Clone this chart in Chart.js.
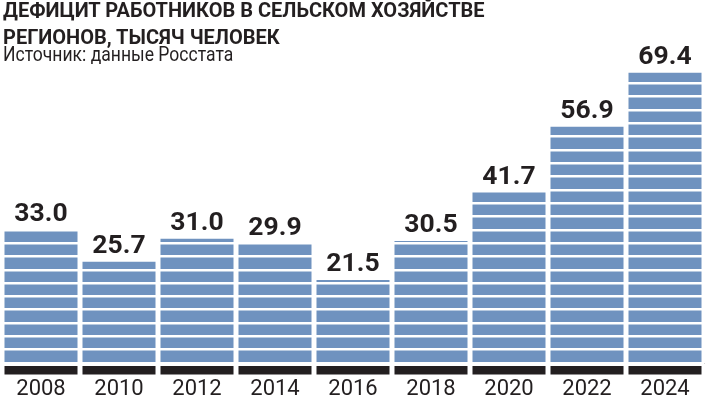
<!DOCTYPE html>
<html>
<head>
<meta charset="utf-8">
<script src="https://cdn.jsdelivr.net/npm/chart.js@4.4.1/dist/chart.umd.min.js"></script>
<style>
body{margin:0;background:#fff;}
#wrap{position:relative;width:705px;height:398px;overflow:hidden;}
#chart{position:absolute;left:0;top:0;}
.t{position:absolute;left:3px;font-family:Roboto,sans-serif;color:#231f20;white-space:nowrap;transform-origin:left top;}
.h{font-weight:bold;font-size:20px;line-height:20px;}
.s{font-size:19.5px;line-height:20px;transform:scaleX(0.9);}
</style>
</head>
<body>
<div id="wrap">
<canvas id="chart" width="705" height="398"></canvas>
<div class="t h" style="top:0px">ДЕФИЦИТ РАБОТНИКОВ В СЕЛЬСКОМ ХОЗЯЙСТВЕ</div>
<div class="t h" style="top:27px">РЕГИОНОВ, ТЫСЯЧ ЧЕЛОВЕК</div>
<div class="t s" style="top:45px">Источник: данные Росстата</div>
</div>
<script>
const years = ["2008","2010","2012","2014","2016","2018","2020","2022","2024"]
const deficit = [33.0, 25.7, 31.0, 29.9, 21.5, 30.5, 41.7, 56.9, 69.4]

const yMin = 2.3
const yMax = 86.2
const stripe = 3.08

const barBlue = "#6f92bf"
const ink = "#231f20"

// подписи значений и черные плашки под столбцами
const extras = {
id:"extras",
afterDraw(chart){
const ctx = chart.ctx
const area = chart.chartArea
const meta = chart.getDatasetMeta(0)
ctx.save()
meta.data.forEach((bar, i) => {
ctx.fillStyle = ink
ctx.fillRect(bar.x - bar.width/2, area.bottom + 3, bar.width, 8.5)
ctx.font = "bold 26.5px Roboto"
ctx.textAlign = "center"
ctx.textBaseline = "alphabetic"
ctx.fillText(deficit[i].toFixed(1), bar.x, bar.y - 9)
})
ctx.restore()
}
}

new Chart(document.getElementById("chart"),{
type:"bar",
data:{
labels:years,
datasets:[{
data:deficit,
backgroundColor:barBlue,
barPercentage:1,
categoryPercentage:0.936
}]
},
options:{
responsive:false,
animation:false,
layout:{padding:{left:2,right:1,top:0,bottom:0}},
plugins:{legend:{display:false},tooltip:{enabled:false}},
scales:{
x:{
grid:{display:false,drawTicks:false},
border:{display:true,color:"#d6d6d6",width:1},
ticks:{color:ink,font:{family:"Roboto",size:22},padding:13.5},
afterFit(s){ s.height = 35 }
},
y:{
min:yMin,
max:yMax,
border:{display:false},
grid:{z:1,color:"#ffffff",lineWidth:2.4,drawTicks:false},
ticks:{display:false},
afterBuildTicks(s){
const t = []
for(let v = yMin; v <= yMax; v += stripe) t.push({value:v})
s.ticks = t
},
afterFit(s){ s.width = 0 }
}
}
},
plugins:[extras]
})
</script>
</body>
</html>
